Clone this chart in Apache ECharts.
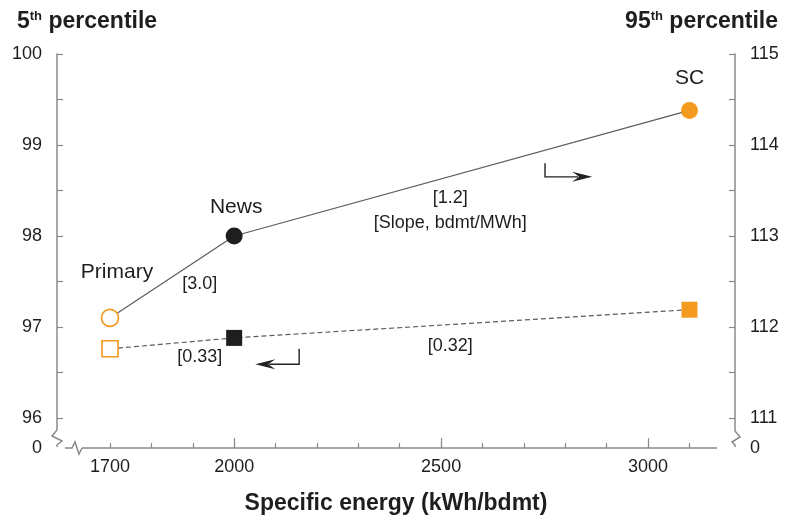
<!DOCTYPE html>
<html style="height:100%">
<head>
    <meta charset="utf-8">
    <title>Specific energy vs percentile</title>
    <script src="https://cdn.jsdelivr.net/npm/echarts@6/dist/echarts.min.js"></script>
</head>
<body style="margin:0;background:#fff;">
    <div id="main" style="width:786px;height:520px;"></div>
    <script type="text/javascript">
        // data
        var grades = ['Primary', 'News', 'SC'];
        var energy = [1700, 2000, 3100];          // kWh/bdmt
        var p95 = [112.1, 113.0, 114.38];         // right axis (circles)
        var p5 = [96.76, 96.88, 97.19];           // left axis (squares)
        var xLabels = [1700, 2000, 2500, 3000];
        var xMinorTicks = [1700, 1800, 1900, 2000, 2100, 2200, 2300, 2400, 2500, 2600, 2700, 2800, 2900, 3000, 3100];
        var xMajorTicks = [2000, 2500, 3000];
        var leftLabels = [95.67, 96, 97, 98, 99, 100];
        var leftTicks = [96, 96.5, 97, 97.5, 98, 98.5, 99, 99.5, 100];
        var rightLabels = [110.67, 111, 112, 113, 114, 115];
        var rightTicks = [111, 111.5, 112, 112.5, 113, 113.5, 114, 114.5, 115];
        var slopeNotes = ['[3.0]', '[1.2]', '[Slope, bdmt/MWh]', '[0.33]', '[0.32]'];

        // layout (data coordinates on the left axis)
        var notePos = [[1917, 97.47], [2522, 98.42], [2522, 98.14], [1917, 96.67], [2522, 96.79]];

        var FONT = '"Liberation Sans", Arial, Helvetica, sans-serif';
        var ORANGE = '#F39A1F';
        var DARK = '#1e1e1e';
        var AXIS = '#8a8a8a';
        var fill95 = ['#fff', DARK, ORANGE];
        var fill5 = ['#fff', DARK, ORANGE];
        var border = [ORANGE, DARK, ORANGE];
        var labelDist = [26, 10, 13];
        var labelOff = [[7, 0], [2, 0], [0, 0]];

        var X_MIN = 1572, X_MAX = 3210;
        var L_MIN = 95.67, L_MAX = 100;
        var R_MIN = 110.67, R_MAX = 115;

        var chart = echarts.init(document.getElementById('main'));

        function yAxis(min, max, labels, ticks, pos, margin) {
            return {
                type: 'value', position: pos, min: min, max: max,
                axisLine: {show: true, lineStyle: {color: AXIS, width: 1.5}},
                axisTick: {show: true, inside: true, length: 6, customValues: ticks,
                    lineStyle: {color: AXIS, width: 1.2}},
                axisLabel: {customValues: labels, margin: margin, color: DARK,
                    fontFamily: FONT, fontSize: 18,
                    formatter: function (v) { return v < min + 0.2 ? '0' : String(v); }},
                splitLine: {show: false}
            };
        }

        var option = {
            animation: false,
            backgroundColor: '#fff',
            textStyle: {fontFamily: FONT},
            title: [{
                left: 12, top: 5,
                text: '{n|5}{s|th}{n| percentile}',
                textStyle: {rich: {
                    n: {fontFamily: FONT, fontSize: 23, fontWeight: 'bold', color: DARK},
                    s: {fontFamily: FONT, fontSize: 13, fontWeight: 'bold', color: DARK, verticalAlign: 'top'}
                }}
            }, {
                right: 3, top: 5,
                text: '{n|95}{s|th}{n| percentile}',
                textStyle: {rich: {
                    n: {fontFamily: FONT, fontSize: 23, fontWeight: 'bold', color: DARK},
                    s: {fontFamily: FONT, fontSize: 13, fontWeight: 'bold', color: DARK, verticalAlign: 'top'}
                }}
            }],
            grid: {left: 57, right: 51, top: 54, bottom: 71},
            xAxis: [{
                type: 'value', min: X_MIN, max: X_MAX,
                name: 'Specific energy (kWh/bdmt)',
                nameLocation: 'middle', nameGap: 44,
                nameTextStyle: {fontFamily: FONT, fontSize: 23, fontWeight: 'bold', color: DARK},
                axisLine: {show: true, lineStyle: {color: AXIS, width: 1.5}},
                axisTick: {show: true, inside: true, length: 5, customValues: xMinorTicks,
                    lineStyle: {color: AXIS, width: 1.2}},
                axisLabel: {customValues: xLabels, margin: 10, color: DARK, fontFamily: FONT, fontSize: 18,
                    formatter: function (v) { return String(v); }},
                splitLine: {show: false}
            }, {
                type: 'value', min: X_MIN, max: X_MAX, position: 'bottom',
                axisLine: {show: false},
                axisTick: {show: true, inside: true, length: 10, customValues: xMajorTicks,
                    lineStyle: {color: AXIS, width: 1.2}},
                axisLabel: {show: false},
                splitLine: {show: false}
            }],
            yAxis: [
                yAxis(L_MIN, L_MAX, leftLabels, leftTicks, 'left', 15),
                yAxis(R_MIN, R_MAX, rightLabels, rightTicks, 'right', 15)
            ],
            series: [{
                name: '95th', type: 'line', yAxisIndex: 1, z: 3,
                symbol: 'circle', symbolSize: 17,
                lineStyle: {color: '#5c5c5c', width: 1.2},
                data: energy.map(function (e, i) {
                    return {
                        value: [e, p95[i]],
                        itemStyle: {color: fill95[i], borderColor: border[i], borderWidth: i === 0 ? 1.6 : 0},
                        label: {show: true, position: 'top', distance: labelDist[i], offset: labelOff[i],
                            formatter: grades[i], color: DARK, fontFamily: FONT, fontSize: 21}
                    };
                })
            }, {
                name: '5th', type: 'line', yAxisIndex: 0, z: 3,
                symbol: 'rect', symbolSize: 16,
                lineStyle: {color: '#5c5c5c', width: 1.2, type: [5, 3]},
                data: energy.map(function (e, i) {
                    return {
                        value: [e, p5[i]],
                        itemStyle: {color: fill5[i], borderColor: border[i], borderWidth: i === 0 ? 1.6 : 0}
                    };
                })
            }]
        };
        chart.setOption(option);

        // annotations, arrows and axis breaks placed through the left-axis scale
        function px(x, y) { return chart.convertToPixel({seriesIndex: 1}, [x, y]); }
        var g = [];
        slopeNotes.forEach(function (t, i) {
            var p = px(notePos[i][0], notePos[i][1]);
            g.push({type: 'text', x: p[0], y: p[1], z: 10,
                style: {text: t, fill: DARK, font: '18px ' + FONT, align: 'center', verticalAlign: 'middle'}});
        });

        function arrow(corner, tipX, fromY, dir) {
            var a = px(corner, fromY[0]), b = px(corner, fromY[1]), c = px(tipX, fromY[1]);
            g.push({type: 'polyline', z: 10, shape: {points: [a, b, [c[0] - dir * 14, c[1]]]},
                style: {stroke: '#222', lineWidth: 1.4, fill: null}});
            g.push({type: 'polygon', z: 10, shape: {points: [
                [c[0], c[1]], [c[0] - dir * 20, c[1] - 5], [c[0] - dir * 13, c[1]], [c[0] - dir * 20, c[1] + 5]]},
                style: {fill: '#222'}});
        }
        arrow(2751, 2865, [98.8, 98.65], 1);
        arrow(2157, 2051, [96.76, 96.59], -1);

        var bl = px(X_MIN, L_MIN), tr = px(X_MAX, L_MAX);
        var x0 = bl[0], y0 = bl[1], x1 = tr[0];
        var brk = {stroke: AXIS, lineWidth: 1.5, fill: null};
        // white-outs
        g.push({type: 'rect', z: 9, shape: {x: x0 - 4, y: y0 - 18, width: 8, height: 22}, style: {fill: '#fff'}});
        g.push({type: 'rect', z: 9, shape: {x: x0 - 4, y: y0 - 3, width: 29, height: 7}, style: {fill: '#fff'}});
        g.push({type: 'rect', z: 9, shape: {x: x1 - 18, y: y0 - 3, width: 22, height: 7}, style: {fill: '#fff'}});
        g.push({type: 'rect', z: 9, shape: {x: x1 - 4, y: y0 - 17, width: 8, height: 21}, style: {fill: '#fff'}});
        // zigzags
        g.push({type: 'polyline', z: 10, style: brk, shape: {points: [
            [x0, y0 - 18], [x0 - 5, y0 - 12], [x0 + 5, y0 - 7], [x0, y0 - 3], [x0, y0 - 1]]}});
        g.push({type: 'polyline', z: 10, style: brk, shape: {points: [
            [x0 + 8, y0], [x0 + 15, y0], [x0 + 18, y0 - 6], [x0 + 22, y0 + 6], [x0 + 25, y0]]}});
        g.push({type: 'polyline', z: 10, style: brk, shape: {points: [
            [x1, y0 - 17], [x1 + 5, y0 - 11], [x1 - 3, y0 - 6], [x1, y0 - 3], [x1, y0 - 1]]}});
        chart.setOption({graphic: g});
    </script>
</body>
</html>
